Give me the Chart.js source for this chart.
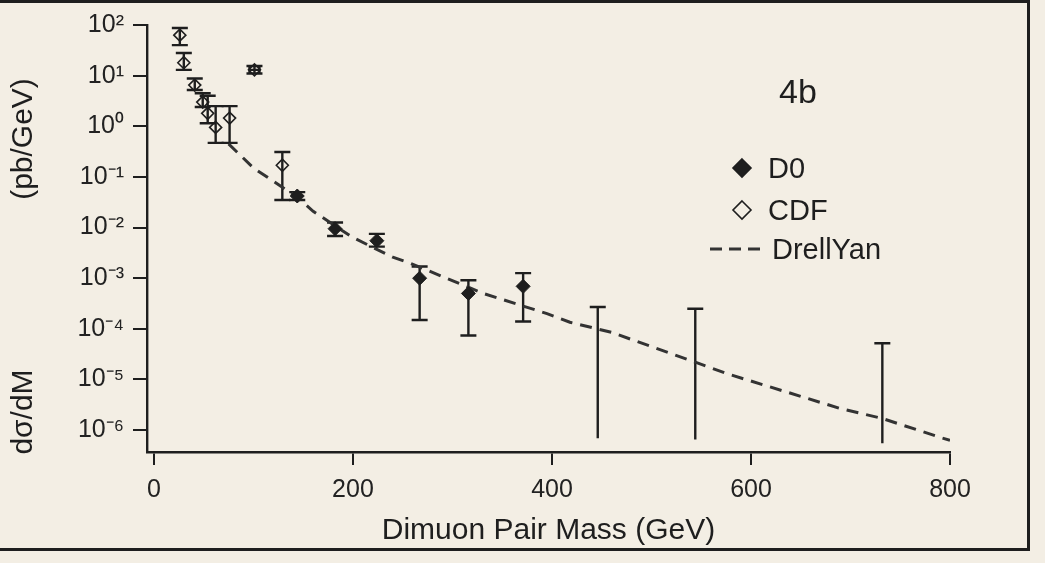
<!DOCTYPE html>
<html><head><meta charset="utf-8">
<script src="https://cdn.jsdelivr.net/npm/chart.js@4.4.1/dist/chart.umd.min.js"></script>
<style>
html,body{margin:0;padding:0;background:#f3eee4;}
#wrap{position:relative;width:1045px;height:563px;overflow:hidden;}
canvas{display:block;}
#frame{position:absolute;left:-4px;top:0;width:1031px;height:545px;border-top:3px solid #1e1e1e;border-right:3px solid #1e1e1e;border-bottom:3px solid #1e1e1e;pointer-events:none;}
</style></head><body>
<div id="wrap"><canvas id="c" width="1045" height="563"></canvas><div id="frame"></div></div>
<script>
// ---- data ----
const cdfMass  = [26, 30, 41, 49, 54, 62, 76, 101, 129];
const cdfValue = [63, 18, 6.5, 3.0, 1.8, 0.95, 1.45, 13, 0.17];
const cdfHigh  = [87, 28, 8.8, 4.5, 4.0, 2.5, 2.5, 15.5, 0.31];
const cdfLow   = [40, 13, 5.2, 2.4, 1.15, 0.47, 0.47, 11, 0.035];
const cdfXErr  = [0, 0, 0, 0, 0, 0, 0, 5, 0];

const d0Mass  = [144, 182, 224, 267, 316, 371];
const d0Value = [0.042, 0.0095, 0.0055, 1.0e-3, 5.0e-4, 6.9e-4];
const d0High  = [0.05, 0.0126, 0.0075, 1.7e-3, 9.1e-4, 1.26e-3];
const d0Low   = [0.035, 0.0068, 0.0042, 1.5e-4, 7.4e-5, 1.4e-4];

const limitMass = [446, 544, 732];
const limitHigh = [2.7e-4, 2.5e-4, 5.2e-5];
const limitLow  = [6.9e-7, 6.5e-7, 5.5e-7];

const dyMass  = [75, 100, 144, 160, 199, 240, 257, 331, 395, 418, 460, 544, 576, 689, 732, 790, 800];
const dyValue = [0.45, 0.15, 0.04, 0.021, 0.0065, 0.0026, 0.002, 5e-4, 2e-4, 1.35e-4, 8.5e-5, 2.2e-5, 1.3e-5, 2.7e-6, 1.7e-6, 7.2e-7, 6.3e-7];

const xTickValues = [0, 200, 400, 600, 800];
const yTickValues = [1e2, 1e1, 1e0, 1e-1, 1e-2, 1e-3, 1e-4, 1e-5, 1e-6];
const yTickLabels = ['10\u00B2', '10\u00B9', '10\u2070', '10\u207B\u00B9', '10\u207B\u00B2', '10\u207B\u00B3', '10\u207B\u2074', '10\u207B\u2075', '10\u207B\u2076'];
const legendLabels = ['D0', 'CDF', 'DrellYan'];
const panelLabel = '4b';

const INK = '#1e1e1e';
const FONT = "'Liberation Sans', Arial, Helvetica, sans-serif";

const pts = (xs, ys) => xs.map((x, i) => ({x: x, y: ys[i]}));

const errorBars = {
  id: 'errorBars',
  beforeDatasetsDraw(chart) {
    const ctx = chart.ctx, xs = chart.scales.x, ys = chart.scales.y;
    ctx.save();
    ctx.strokeStyle = INK;
    ctx.lineWidth = 2.4;
    chart.data.datasets.forEach(ds => {
      if (!ds.errHigh) return;
      ds.errMass.forEach((m, i) => {
        const px = xs.getPixelForValue(m);
        const top = ys.getPixelForValue(ds.errHigh[i]);
        const bot = ys.getPixelForValue(ds.errLow[i]);
        ctx.beginPath();
        ctx.moveTo(px, top); ctx.lineTo(px, bot);
        const cw = 8;
        ctx.moveTo(px - cw, top); ctx.lineTo(px + cw, top);
        if (!ds.noLowCap) { ctx.moveTo(px - cw, bot); ctx.lineTo(px + cw, bot); }
        if (ds.errX && ds.errX[i]) {
          const py = ys.getPixelForValue(ds.errValue[i]);
          const l = xs.getPixelForValue(m - ds.errX[i]), r = xs.getPixelForValue(m + ds.errX[i]);
          ctx.moveTo(l, py); ctx.lineTo(r, py);
          ctx.moveTo(l, py - 4); ctx.lineTo(l, py + 4);
          ctx.moveTo(r, py - 4); ctx.lineTo(r, py + 4);
        }
        ctx.stroke();
      });
    });
    ctx.restore();
  }
};

function diamond(ctx, x, y, r, filled) {
  ctx.beginPath();
  ctx.moveTo(x, y - r); ctx.lineTo(x + r, y); ctx.lineTo(x, y + r); ctx.lineTo(x - r, y); ctx.closePath();
  if (filled) { ctx.fillStyle = INK; ctx.fill(); }
  ctx.strokeStyle = INK; ctx.lineWidth = 1.6; ctx.stroke();
}

const decorations = {
  id: 'decorations',
  afterDraw(chart) {
    const ctx = chart.ctx;
    ctx.save();
    ctx.fillStyle = INK;
    ctx.textBaseline = 'middle';
    // panel label
    ctx.font = '34px ' + FONT;
    ctx.textAlign = 'left';
    ctx.fillText(panelLabel, 779, 94);
    // legend
    ctx.font = '29px ' + FONT;
    diamond(ctx, 742, 168, 9, true);
    ctx.fillStyle = INK;
    ctx.fillText(legendLabels[0], 768, 170);
    diamond(ctx, 742, 210, 9, false);
    ctx.fillStyle = INK;
    ctx.fillText(legendLabels[1], 768, 212);
    ctx.setLineDash([12, 7]);
    ctx.lineWidth = 3; ctx.strokeStyle = '#333';
    ctx.beginPath(); ctx.moveTo(710, 249); ctx.lineTo(766, 249); ctx.stroke();
    ctx.setLineDash([]);
    ctx.fillText(legendLabels[2], 772, 251);
    // y title (two parts)
    ctx.font = '30px ' + FONT;
    ctx.translate(24, 0);
    ctx.rotate(-Math.PI / 2);
    ctx.textAlign = 'center';
    ctx.fillText('(pb/GeV)', -139, 0);
    ctx.fillText('d\u03C3/dM', -412, 0);
    ctx.restore();
  }
};

new Chart(document.getElementById('c'), {
  data: {
    datasets: [
      { type: 'line', label: 'DrellYan', data: pts(dyMass, dyValue), borderColor: '#333', borderWidth: 3,
        borderDash: [12, 8], pointRadius: 0, fill: false, tension: 0, order: 3 },
      { type: 'scatter', label: 'CDF', data: pts(cdfMass, cdfValue), pointStyle: 'rectRot', pointRadius: 6,
        borderColor: INK, backgroundColor: 'rgba(0,0,0,0)', borderWidth: 1.6,
        errMass: cdfMass, errHigh: cdfHigh, errLow: cdfLow, errX: cdfXErr, errValue: cdfValue, order: 2 },
      { type: 'scatter', label: 'D0', data: pts(d0Mass, d0Value), pointStyle: 'rectRot', pointRadius: 7,
        borderColor: INK, backgroundColor: INK, borderWidth: 1,
        errMass: d0Mass, errHigh: d0High, errLow: d0Low, order: 1 },
      { type: 'scatter', label: 'limits', data: pts(limitMass, limitHigh), pointRadius: 0,
        errMass: limitMass, errHigh: limitHigh, errLow: limitLow, noLowCap: true, order: 4 }
    ]
  },
  options: {
    responsive: false,
    animation: false,
    devicePixelRatio: 1,
    layout: { padding: { top: 25, right: 95, left: 0, bottom: 0 } },
    plugins: { legend: { display: false }, tooltip: { enabled: false } },
    scales: {
      x: {
        type: 'linear', min: -7, max: 800,
        afterBuildTicks: s => { s.ticks = xTickValues.map(v => ({value: v})); },
        afterFit: s => { s.height = 111; },
        border: { display: true, color: INK, width: 2.4 },
        grid: { display: true, drawOnChartArea: false, drawTicks: true, tickLength: 13, color: INK, lineWidth: 2 },
        ticks: { color: '#222', font: { family: FONT, size: 25 }, padding: 10, maxRotation: 0, autoSkip: false },
        title: { display: true, text: 'Dimuon Pair Mass (GeV)', color: INK, font: { family: FONT, size: 30 }, padding: { top: 0, bottom: 14 } }
      },
      y: {
        type: 'logarithmic', min: 3.7e-7, max: 100,
        afterBuildTicks: s => { s.ticks = yTickValues.map(v => ({value: v})); },
        afterFit: s => { s.width = 147; },
        border: { display: true, color: INK, width: 2.4 },
        grid: { display: true, drawOnChartArea: false, drawTicks: true, tickLength: 14, color: INK, lineWidth: 2 },
        ticks: { color: '#222', font: { family: FONT, size: 25 }, padding: 9, autoSkip: false,
          callback: (v, i) => yTickLabels[i] }
      }
    }
  },
  plugins: [errorBars, decorations]
});
</script>
</body></html>
